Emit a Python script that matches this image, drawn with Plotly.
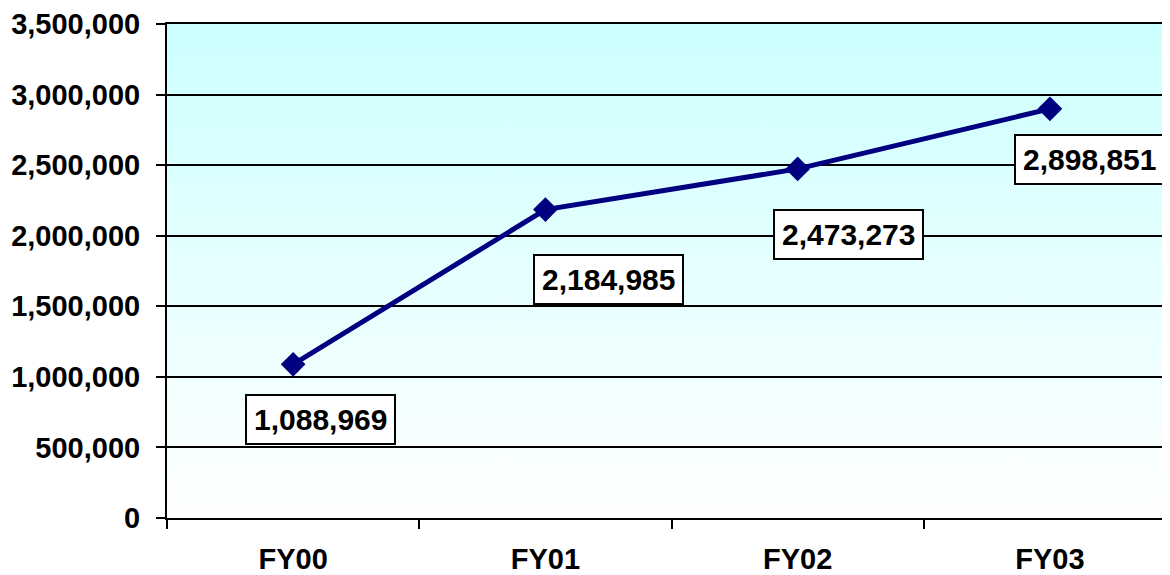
import base64
import plotly.graph_objects as go

categories = ["FY00", "FY01", "FY02", "FY03"]
values = [1088969, 2184985, 2473273, 2898851]
value_labels = ["1,088,969", "2,184,985", "2,473,273", "2,898,851"]
label_shift_x = [27, 63, 51, 40]
label_shift_y = [-55, -70, -66, -51]
y_ticks = [0, 500000, 1000000, 1500000, 2000000, 2500000, 3000000, 3500000]

FONT = "Arial, Liberation Sans, sans-serif"

svg = (
    '<svg xmlns="http://www.w3.org/2000/svg" width="100" height="100" '
    'viewBox="0 0 100 100" preserveAspectRatio="none">'
    '<defs><linearGradient id="g" x1="0" y1="0" x2="0" y2="1">'
    '<stop offset="0" stop-color="#CCFFFF"/>'
    '<stop offset="1" stop-color="#FFFFFF"/>'
    '</linearGradient></defs>'
    '<rect width="100" height="100" fill="url(#g)"/></svg>'
)
src = "data:image/svg+xml;base64," + base64.b64encode(svg.encode()).decode()

fig = go.Figure()
fig.add_trace(go.Scatter(
    x=categories, y=values, mode="lines+markers",
    line=dict(color="#000080", width=5),
    marker=dict(symbol="diamond", size=19, color="#000080"),
    showlegend=False, cliponaxis=False,
))

for c, v, t, sx, sy in zip(categories, values, value_labels, label_shift_x, label_shift_y):
    fig.add_annotation(
        x=c, y=v, text=t, showarrow=False, xshift=sx, yshift=sy,
        font=dict(family=FONT, size=30, color="black", weight="bold"),
        bgcolor="white", bordercolor="black", borderwidth=2, borderpad=7,
    )

fig.add_layout_image(dict(
    source=src, xref="paper", yref="paper", x=0, y=1, sizex=1, sizey=1,
    xanchor="left", yanchor="top", sizing="stretch", layer="below",
))

fig.update_layout(
    width=1162, height=567,
    margin=dict(l=159, r=0, t=14, b=57),
    paper_bgcolor="white", plot_bgcolor="rgba(0,0,0,0)",
    font=dict(family=FONT, size=29, color="black", weight="bold"),
    xaxis=dict(
        type="category", range=[-0.5, 3.476], tickson="boundaries",
        ticks="outside", ticklen=9, tickwidth=2, tickcolor="black",
        showline=True, linecolor="black", linewidth=2, showgrid=False,
        mirror=True,
        tickfont=dict(family=FONT, size=29, color="black", weight="bold"),
        ticklabelstandoff=14,
    ),
    yaxis=dict(
        range=[0, 3500050], tickmode="array", tickvals=y_ticks, tickformat=",",
        ticks="outside", ticklen=9, tickwidth=2, tickcolor="black",
        showline=True, linecolor="black", linewidth=2,
        showgrid=True, gridcolor="black", gridwidth=2, zeroline=False,
        tickfont=dict(family=FONT, size=29, color="black", weight="bold"),
        ticklabelstandoff=10, ticklabeloverflow="allow",
    ),
)

fig.write_html("out.html")
